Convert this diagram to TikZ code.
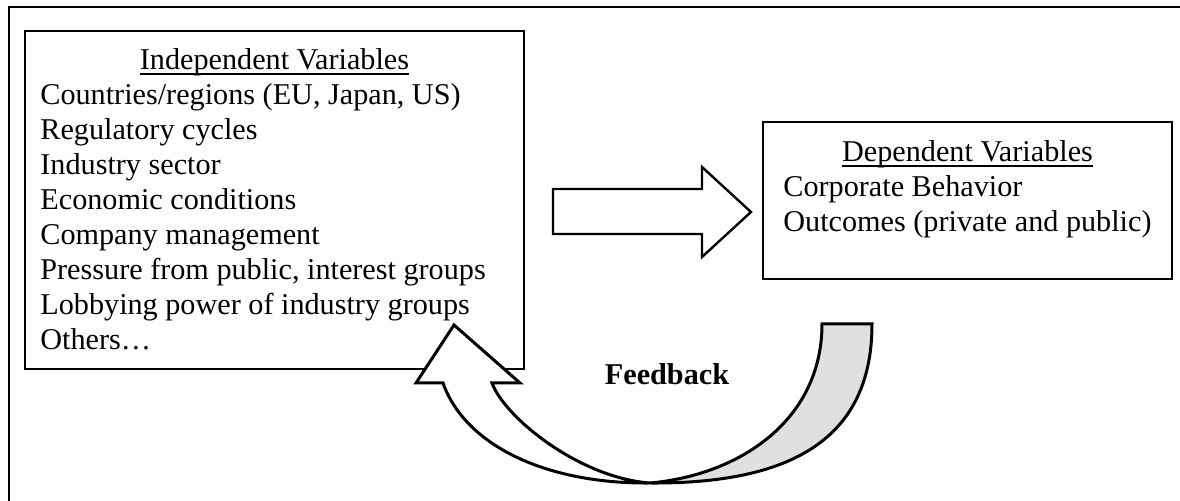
\documentclass[tikz,border=0pt]{standalone}
\usepackage{fontspec}
\setmainfont{Liberation Serif}
\begin{document}
\begin{tikzpicture}[x=0.5pt,y=-0.5pt,
  frame/.style={line width=1pt},
  box/.style={draw,line width=1pt,rectangle,anchor=north west,inner sep=0pt,outer sep=0pt,fill=white},
  txt/.style={anchor=base west,inner sep=0pt,font=\fontsize{15.1}{17.5}\selectfont},
  headtxt/.style={anchor=base,inner sep=0pt,font=\fontsize{15.1}{17.5}\selectfont},
  uline/.style={line width=0.7pt},
  fatarrow/.style={draw,line width=1.2pt,fill=white,line join=miter},
  ribbonfront/.style={draw,line width=1.5pt,fill=white,line join=miter},
  ribbonback/.style={draw,line width=1.5pt,fill=black!12,line join=miter}]
\useasboundingbox (0,0) rectangle (1180,501);
% outer frame (cropped)
\draw[frame] (9,501) -- (9,7) -- (1180,7);
% independent variables box
\node[box,minimum width=249.5pt,minimum height=169pt] (iv) at (25,31) {};
\node[headtxt] (ivh) at (274.5,70) {Independent Variables};
\draw[uline] ([yshift=-2pt]ivh.base west) -- ([yshift=-2pt]ivh.base east);
\foreach \t [count=\i from 0] in {Countries/regions (EU{,} Japan{,} US),Regulatory cycles,Industry sector,Economic conditions,Company management,{Pressure from public, interest groups},Lobbying power of industry groups,Others…}
  \node[txt] (iv\i) at (40,{105+35*\i}) {\t};
% dependent variables box
\node[box,minimum width=204.5pt,minimum height=78.5pt] (dv) at (763,122) {};
\node[headtxt] (dvh) at (967.5,162) {Dependent Variables};
\draw[uline] ([yshift=-2pt]dvh.base west) -- ([yshift=-2pt]dvh.base east);
\node[txt] (dv1) at (783,197) {Corporate Behavior};
\node[txt] (dv2) at (783,232) {Outcomes (private and public)};
% block arrow
\path[fatarrow] (553,189) -- (702,189) -- (702,167) -- (751,212) -- (702,257) -- (702,234) -- (553,234) -- cycle;
% feedback curved arrow
\path[ribbonback] (650,483) .. controls (790,484) and (872,440) .. (872,324) -- (822,324)
  .. controls (822,420) and (740,475) .. (650,483) -- cycle;
\path[ribbonfront] (443,383) -- (416,383) -- (454,325) -- (520,383) -- (492,383)
  .. controls (505,418) and (580,478) .. (650,483)
  .. controls (545,484) and (465,445) .. (443,383) -- cycle;
\node[headtxt,font=\bfseries\fontsize{15.1}{17.5}\selectfont] (fb) at (667,385) {Feedback};
\end{tikzpicture}
\end{document}
